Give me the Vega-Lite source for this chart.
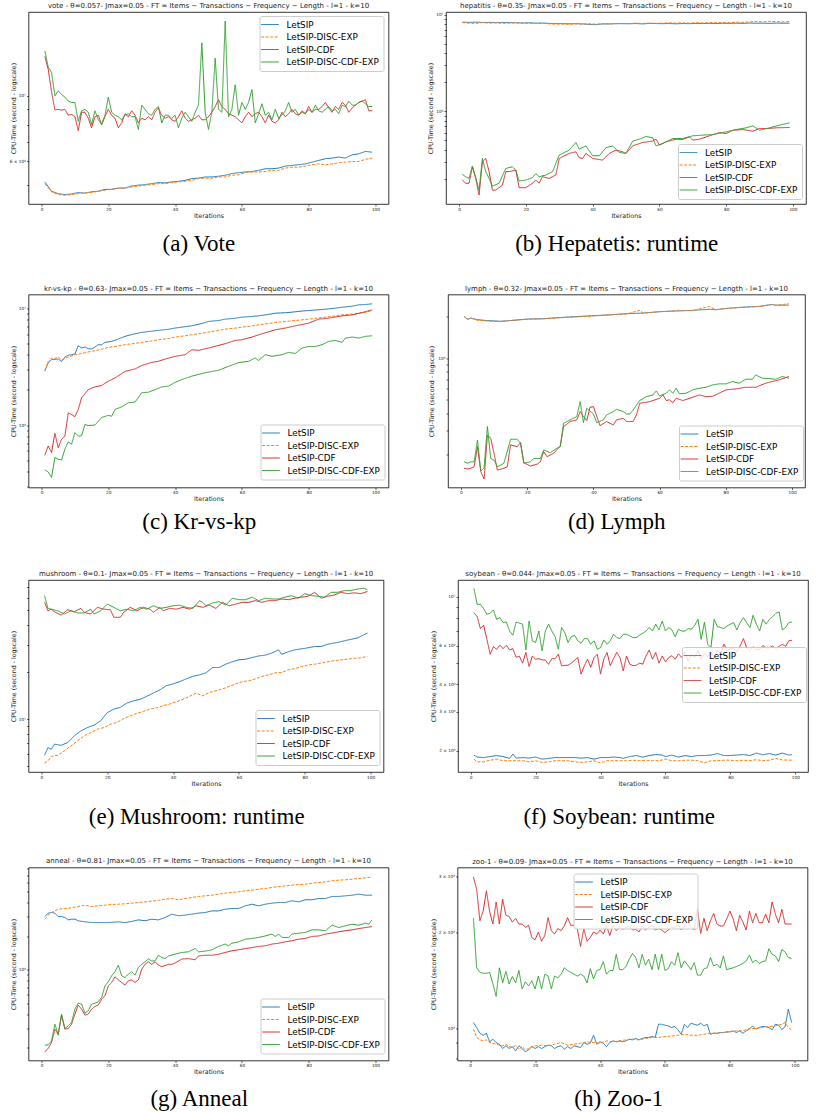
{
"$schema": "https://vega.github.io/schema/vega-lite/v6.json",
"background": "white",
"padding": {"left": 8.5, "top": 1, "right": 0, "bottom": 0},
"config": {
  "font": "DejaVu Sans",
  "view": {"stroke": "#000", "strokeWidth": 0.8},
  "axis": {"domain": false, "grid": false, "tickColor": "#000", "tickWidth": 0.6, "tickSize": 2, "labelFontSize": 4.3, "labelColor": "#222", "labelPadding": 1, "labelFont": "DejaVu Sans", "titleFont": "DejaVu Sans", "titleFontSize": 6.3, "titleFontWeight": "normal", "titleColor": "#222", "labelOverlap": false},
  "axisY": {"titlePadding": 2},
  "axisX": {"titlePadding": 1},
  "title": {"font": "DejaVu Sans", "fontSize": 7, "fontWeight": "normal", "color": "#222", "offset": 3, "anchor": "middle"},
  "legend": {"symbolType": "M-2.5,0H2.5", "symbolSize": 50, "symbolOffset": 2, "symbolStrokeWidth": 1.5, "labelFontSize": 8.8, "labelFont": "DejaVu Sans", "labelColor": "#000", "padding": 4, "rowPadding": 2.5, "labelOffset": 12, "strokeColor": "#cccccc", "fillColor": "rgba(255,255,255,0.8)", "cornerRadius": 2},
  "line": {"strokeWidth": 1}
},
"datasets": {
"vote": [
{"x":1,"A":5.12,"B":5.05,"C":13.6,"D":14.2},{"x":2,"C":12.3,"D":12.5},{"x":3,"A":4.76,"B":4.74,"C":10.3,"D":12.0},{"x":4,"C":8.97,"D":10.0},{"x":5,"A":4.67,"B":4.64,"C":9.0,"D":10.4},{"x":6,"C":8.95,"D":10.1},{"x":7,"A":4.64,"B":4.61,"C":9.0,"D":9.9},{"x":8,"C":8.6,"D":9.6},{"x":9,"A":4.66,"B":4.64,"C":8.65,"D":9.5},{"x":10,"C":8.5,"D":9.5},
{"x":11,"A":4.71,"B":4.67,"C":7.63,"D":8.2},{"x":12,"C":8.8,"D":8.9},{"x":13,"A":4.69,"B":4.71,"C":8.8,"D":9.0},{"x":14,"C":8.4,"D":8.8},{"x":15,"A":4.74,"B":4.71,"C":7.8,"D":8.0},{"x":16,"C":8.5,"D":8.9},{"x":17,"A":4.76,"B":4.76,"C":8.6,"D":8.3},{"x":18,"C":8.0,"D":8.0},{"x":19,"A":4.83,"B":4.80,"C":8.5,"D":8.6},{"x":20,"C":9.0,"D":9.9},
{"x":21,"A":4.83,"B":4.83,"C":8.6,"D":8.8},{"x":22,"C":8.4,"D":8.6},{"x":23,"A":4.88,"B":4.86,"C":7.8,"D":8.5},{"x":24,"C":8.1,"D":8.3},{"x":25,"A":4.88,"B":4.88,"C":8.7,"D":8.6},{"x":26,"C":8.5,"D":8.7},{"x":27,"A":4.96,"B":4.92,"C":8.9,"D":8.5},{"x":28,"C":8.6,"D":8.5},{"x":29,"A":4.99,"B":4.96,"C":8.1,"D":7.7},{"x":30,"C":8.4,"D":9.3},
{"x":31,"A":5.01,"B":4.99,"C":8.3,"D":9.0},{"x":32,"C":8.5,"D":8.7},{"x":33,"A":5.05,"B":5.01,"C":8.3,"D":8.6},{"x":34,"C":8.8,"D":9.0},{"x":35,"A":5.09,"B":5.05,"C":9.1,"D":9.2},{"x":36,"C":8.6,"D":8.1},{"x":37,"A":5.08,"B":5.05,"C":8.4,"D":8.6},{"x":38,"C":8.5,"D":8.6},{"x":39,"A":5.12,"B":5.09,"C":8.3,"D":8.4},{"x":40,"C":8.2,"D":8.6},
{"x":41,"A":5.14,"B":5.12,"C":8.5,"D":7.8},{"x":42,"C":8.9,"D":8.4},{"x":43,"A":5.18,"B":5.14,"C":8.4,"D":8.8},{"x":44,"C":8.2,"D":8.5},{"x":45,"A":5.25,"B":5.18,"C":8.3,"D":8.2},{"x":46,"C":8.4,"D":8.8},{"x":47,"A":5.27,"B":5.25,"C":8.6,"D":9.3},{"x":48,"C":8.3,"D":15.1},{"x":49,"A":5.32,"B":5.27,"C":8.3,"D":8.8},{"x":50,"C":8.5,"D":7.7},
{"x":51,"A":5.32,"B":5.27,"C":8.8,"D":8.8},{"x":52,"C":9.2,"D":13.4},{"x":53,"A":5.35,"B":5.32,"C":9.7,"D":9.0},{"x":54,"C":9.2,"D":8.8},{"x":55,"A":5.39,"B":5.32,"C":9.0,"D":17.9},{"x":56,"C":8.7,"D":8.5},{"x":57,"A":5.46,"B":5.39,"C":8.6,"D":9.0},{"x":58,"C":8.5,"D":10.9},{"x":59,"A":5.50,"B":5.41,"C":8.3,"D":8.6},{"x":60,"C":8.1,"D":9.5},
{"x":61,"A":5.53,"B":5.50,"C":8.5,"D":9.0},{"x":62,"C":8.8,"D":9.5},{"x":63,"A":5.55,"B":5.53,"C":8.5,"D":10.5},{"x":64,"C":8.7,"D":8.1},{"x":65,"A":5.60,"B":5.53,"C":8.8,"D":8.7},{"x":66,"C":8.5,"D":9.4},{"x":67,"A":5.67,"B":5.55,"C":8.1,"D":8.6},{"x":68,"C":8.6,"D":8.8},{"x":69,"A":5.67,"B":5.60,"C":8.2,"D":8.3},{"x":70,"C":8.1,"D":9.0},
{"x":71,"A":5.70,"B":5.60,"C":8.3,"D":8.4},{"x":72,"C":8.8,"D":8.6},{"x":73,"A":5.79,"B":5.70,"C":8.5,"D":8.9},{"x":74,"C":8.7,"D":9.5},{"x":75,"A":5.82,"B":5.74,"C":9.0,"D":8.8},{"x":76,"C":8.7,"D":9.0},{"x":77,"A":5.85,"B":5.74,"C":8.6,"D":8.6},{"x":78,"C":8.9,"D":8.8},{"x":79,"A":5.89,"B":5.79,"C":8.7,"D":8.7},{"x":80,"C":9.2,"D":9.0},
{"x":81,"A":5.97,"B":5.85,"C":8.8,"D":8.8},{"x":82,"C":9.0,"D":9.3},{"x":83,"A":6.05,"B":5.89,"C":9.0,"D":8.9},{"x":84,"C":9.2,"D":8.8},{"x":85,"A":6.13,"B":5.85,"C":9.5,"D":9.0},{"x":86,"C":9.1,"D":9.2},{"x":87,"A":6.16,"B":5.89,"C":8.8,"D":8.9},{"x":88,"C":9.2,"D":9.0},{"x":89,"A":6.21,"B":5.94,"C":9.0,"D":8.7},{"x":90,"C":9.5,"D":9.3},
{"x":91,"A":6.16,"B":5.97,"C":9.3,"D":9.2},{"x":92,"C":8.8,"D":9.6},{"x":93,"A":6.32,"B":6.0,"C":9.1,"D":9.3},{"x":94,"C":9.3,"D":9.3},{"x":95,"A":6.37,"B":6.0,"C":9.5,"D":9.5},{"x":96,"C":9.6,"D":9.6},{"x":97,"A":6.49,"B":6.10,"C":9.7,"D":9.4},{"x":98,"C":8.9,"D":9.2},{"x":99,"A":6.45,"B":6.16,"C":8.9,"D":9.2}
],
"hep": [
{"x":1,"A":8.40,"B":8.3},{"x":3,"A":8.35,"B":8.2},{"x":5,"A":8.40,"B":8.15},{"x":7,"A":8.33,"B":8.3},{"x":9,"A":8.35,"B":8.2},{"x":11,"A":8.30,"B":8.25},{"x":13,"A":8.35,"B":8.15},{"x":15,"A":8.30,"B":8.2},{"x":17,"A":8.28,"B":8.25},{"x":19,"A":8.25,"B":8.15},
{"x":21,"A":8.27,"B":8.2},{"x":23,"A":8.20,"B":8.1},{"x":25,"A":8.22,"B":8.15},{"x":27,"A":8.15,"B":8.05},{"x":29,"A":8.12,"B":8.0},{"x":31,"A":8.10,"B":8.02},{"x":33,"A":8.08,"B":7.98},{"x":35,"A":8.10,"B":8.05},{"x":37,"A":8.05,"B":8.0},{"x":39,"A":7.95,"B":8.08},
{"x":41,"A":7.90,"B":8.0},{"x":43,"A":8.05,"B":8.1},{"x":45,"A":8.05,"B":8.05},{"x":47,"A":8.10,"B":8.1},{"x":49,"A":8.10,"B":8.15},{"x":51,"A":8.08,"B":8.12},{"x":53,"A":8.12,"B":8.2},{"x":55,"A":8.05,"B":8.15},{"x":57,"A":8.15,"B":8.2},{"x":59,"A":8.12,"B":8.15},
{"x":61,"A":8.10,"B":8.2},{"x":63,"A":8.12,"B":8.25},{"x":65,"A":8.08,"B":8.2},{"x":67,"A":8.12,"B":8.25},{"x":69,"A":8.10,"B":8.2},{"x":71,"A":8.15,"B":8.28},{"x":73,"A":8.12,"B":8.25},{"x":75,"A":8.15,"B":8.3},{"x":77,"A":8.12,"B":8.28},{"x":79,"A":8.18,"B":8.32},
{"x":81,"A":8.15,"B":8.3},{"x":83,"A":8.20,"B":8.38},{"x":85,"A":8.15,"B":8.35},{"x":87,"A":8.22,"B":8.45},{"x":89,"A":8.18,"B":8.55},{"x":91,"A":8.20,"B":8.45},{"x":93,"A":8.15,"B":8.55},{"x":95,"A":8.22,"B":8.5},{"x":97,"A":8.18,"B":8.45},{"x":99,"A":8.20,"B":8.5},
{"x":1,"C":0.193},{"x":2,"C":0.179},{"x":3,"C":0.179},{"x":4,"C":0.265},{"x":5,"C":0.201},{"x":6,"C":0.135},{"x":7,"C":0.299},{"x":8,"C":0.324},{"x":9,"C":0.236},{"x":10,"C":0.152},{"x":11,"C":0.152},{"x":13,"C":0.171},{"x":14,"C":0.236},{"x":15,"C":0.236},{"x":17,"C":0.245},{"x":18,"C":0.161},{"x":20,"C":0.161},{"x":22,"C":0.179},{"x":23,"C":0.193},{"x":24,"C":0.179},{"x":25,"C":0.209},{"x":27,"C":0.201},{"x":29,"C":0.218},{"x":30,"C":0.324},{"x":33,"C":0.365},{"x":35,"C":0.379},{"x":36,"C":0.329},{"x":37,"C":0.324},{"x":38,"C":0.365},{"x":40,"C":0.324},{"x":43,"C":0.311},{"x":45,"C":0.365},{"x":47,"C":0.395},{"x":49,"C":0.379},{"x":50,"C":0.365},{"x":52,"C":0.437},{"x":55,"C":0.474},{"x":58,"C":0.490},{"x":59,"C":0.513},{"x":60,"C":0.445},{"x":62,"C":0.482},{"x":65,"C":0.513},{"x":67,"C":0.510},{"x":69,"C":0.542},{"x":70,"C":0.501},{"x":72,"C":0.513},{"x":75,"C":0.556},{"x":78,"C":0.601},{"x":80,"C":0.587},{"x":82,"C":0.635},{"x":85,"C":0.645},{"x":88,"C":0.621},{"x":90,"C":0.662},{"x":93,"C":0.662},{"x":95,"C":0.673},{"x":99,"C":0.678},
{"x":1,"D":0.221},{"x":2,"D":0.209},{"x":3,"D":0.201},{"x":4,"D":0.27},{"x":5,"D":0.205},{"x":6,"D":0.152},{"x":7,"D":0.324},{"x":8,"D":0.236},{"x":9,"D":0.201},{"x":10,"D":0.167},{"x":12,"D":0.179},{"x":14,"D":0.255},{"x":16,"D":0.265},{"x":17,"D":0.245},{"x":18,"D":0.189},{"x":20,"D":0.193},{"x":22,"D":0.205},{"x":23,"D":0.225},{"x":24,"D":0.209},{"x":26,"D":0.218},{"x":28,"D":0.236},{"x":30,"D":0.351},{"x":33,"D":0.395},{"x":35,"D":0.474},{"x":36,"D":0.404},{"x":38,"D":0.437},{"x":40,"D":0.345},{"x":42,"D":0.345},{"x":44,"D":0.418},{"x":46,"D":0.437},{"x":48,"D":0.373},{"x":50,"D":0.365},{"x":52,"D":0.490},{"x":54,"D":0.513},{"x":56,"D":0.547},{"x":58,"D":0.530},{"x":59,"D":0.437},{"x":61,"D":0.463},{"x":64,"D":0.521},{"x":67,"D":0.521},{"x":70,"D":0.556},{"x":73,"D":0.565},{"x":76,"D":0.573},{"x":80,"D":0.611},{"x":83,"D":0.645},{"x":86,"D":0.673},{"x":88,"D":0.705},{"x":90,"D":0.635},{"x":93,"D":0.673},{"x":96,"D":0.717},{"x":99,"D":0.757}
],
"krkp": [
{"x":1,"A":2.94},{"x":2,"A":3.40},{"x":3,"A":3.63},{"x":4,"A":3.65},{"x":5,"A":3.67},{"x":6,"A":3.50},{"x":7,"A":3.82},{"x":8,"A":3.95},{"x":9,"A":4.0},{"x":10,"A":4.05},{"x":11,"A":4.78},{"x":12,"A":4.57},{"x":13,"A":4.66},{"x":14,"A":4.5},{"x":15,"A":4.48},{"x":16,"A":4.65},{"x":17,"A":4.87},{"x":18,"A":4.85},{"x":19,"A":5.10},{"x":21,"A":5.20},{"x":23,"A":5.45},{"x":25,"A":5.74},{"x":27,"A":5.95},{"x":30,"A":6.21},{"x":33,"A":6.35},{"x":35,"A":6.46},{"x":38,"A":6.6},{"x":40,"A":6.76},{"x":43,"A":6.95},{"x":45,"A":7.07},{"x":48,"A":7.4},{"x":50,"A":7.70},{"x":53,"A":7.85},{"x":55,"A":8.06},{"x":58,"A":8.2},{"x":60,"A":8.38},{"x":63,"A":8.5},{"x":65,"A":8.60},{"x":68,"A":8.85},{"x":70,"A":9.06},{"x":73,"A":9.15},{"x":75,"A":9.25},{"x":78,"A":9.45},{"x":80,"A":9.55},{"x":83,"A":9.7},{"x":85,"A":9.80},{"x":88,"A":10.0},{"x":90,"A":10.2},{"x":93,"A":10.4},{"x":95,"A":10.7},{"x":97,"A":10.75},{"x":99,"A":10.9},
{"x":1,"B":2.88},{"x":2,"B":3.5},{"x":3,"B":3.75},{"x":4,"B":3.72},{"x":5,"B":3.82},{"x":6,"B":3.6},{"x":7,"B":3.7},{"x":8,"B":3.82},{"x":10,"B":4.0},{"x":12,"B":4.1},{"x":15,"B":4.28},{"x":18,"B":4.45},{"x":20,"B":4.62},{"x":23,"B":4.75},{"x":25,"B":4.87},{"x":28,"B":5.0},{"x":30,"B":5.10},{"x":33,"B":5.25},{"x":35,"B":5.37},{"x":38,"B":5.5},{"x":40,"B":5.66},{"x":43,"B":5.8},{"x":45,"B":5.93},{"x":48,"B":6.1},{"x":50,"B":6.24},{"x":53,"B":6.45},{"x":55,"B":6.62},{"x":58,"B":6.75},{"x":60,"B":6.89},{"x":63,"B":7.05},{"x":65,"B":7.21},{"x":68,"B":7.4},{"x":70,"B":7.55},{"x":73,"B":7.7},{"x":75,"B":7.80},{"x":78,"B":7.95},{"x":80,"B":8.06},{"x":83,"B":8.25},{"x":85,"B":8.38},{"x":88,"B":8.6},{"x":90,"B":8.77},{"x":93,"B":8.9},{"x":95,"B":9.06},{"x":97,"B":9.2},{"x":99,"B":9.55},
{"x":1,"C":0.551},{"x":2,"C":0.662},{"x":3,"C":0.581},{"x":4,"C":0.849},{"x":5,"C":0.641},{"x":6,"C":0.755},{"x":7,"C":0.805},{"x":8,"C":1.27},{"x":9,"C":1.23},{"x":10,"C":1.18},{"x":11,"C":1.36},{"x":12,"C":1.71},{"x":14,"C":2.01},{"x":16,"C":2.12},{"x":18,"C":2.18},{"x":20,"C":2.37},{"x":22,"C":2.53},{"x":25,"C":2.88},{"x":28,"C":3.02},{"x":30,"C":3.23},{"x":33,"C":3.44},{"x":35,"C":3.51},{"x":37,"C":3.67},{"x":40,"C":3.87},{"x":43,"C":4.0},{"x":45,"C":4.41},{"x":47,"C":4.36},{"x":50,"C":4.56},{"x":55,"C":4.97},{"x":58,"C":5.30},{"x":60,"C":5.37},{"x":63,"C":5.66},{"x":66,"C":6.04},{"x":70,"C":6.53},{"x":73,"C":6.76},{"x":76,"C":7.07},{"x":80,"C":7.45},{"x":83,"C":8.06},{"x":86,"C":8.22},{"x":90,"C":8.60},{"x":93,"C":8.77},{"x":96,"C":9.18},{"x":99,"C":9.68},
{"x":1,"D":0.413},{"x":2,"D":0.397},{"x":3,"D":0.356},{"x":4,"D":0.527},{"x":5,"D":0.510},{"x":6,"D":0.502},{"x":7,"D":0.621},{"x":8,"D":0.717},{"x":9,"D":0.686},{"x":10,"D":0.861},{"x":11,"D":0.805},{"x":12,"D":0.81},{"x":13,"D":1.01},{"x":14,"D":0.99},{"x":16,"D":1.0},{"x":18,"D":1.16},{"x":20,"D":1.21},{"x":21,"D":1.19},{"x":22,"D":1.36},{"x":24,"D":1.43},{"x":26,"D":1.55},{"x":28,"D":1.57},{"x":30,"D":1.89},{"x":32,"D":1.91},{"x":34,"D":2.01},{"x":36,"D":2.12},{"x":38,"D":2.15},{"x":40,"D":2.32},{"x":42,"D":2.45},{"x":45,"D":2.62},{"x":48,"D":2.76},{"x":50,"D":2.84},{"x":53,"D":2.94},{"x":56,"D":3.18},{"x":59,"D":3.42},{"x":62,"D":3.51},{"x":64,"D":3.75},{"x":65,"D":3.57},{"x":67,"D":4.0},{"x":69,"D":3.87},{"x":72,"D":4.0},{"x":74,"D":4.19},{"x":76,"D":4.1},{"x":78,"D":4.56},{"x":80,"D":4.71},{"x":82,"D":4.71},{"x":84,"D":4.87},{"x":86,"D":5.20},{"x":88,"D":5.30},{"x":90,"D":5.10},{"x":91,"D":5.55},{"x":93,"D":5.66},{"x":95,"D":5.55},{"x":97,"D":5.74},{"x":99,"D":5.81}
],
"lymph": [
{"x":1,"A":2.0},{"x":2,"A":1.92},{"x":3,"A":1.95},{"x":5,"A":1.90},{"x":8,"A":1.87},{"x":12,"A":1.85},{"x":15,"A":1.87},{"x":20,"A":1.92},{"x":25,"A":1.93},{"x":30,"A":1.97},{"x":35,"A":2.0},{"x":40,"A":2.03},{"x":45,"A":2.06},{"x":50,"A":2.10},{"x":55,"A":2.12},{"x":60,"A":2.17},{"x":65,"A":2.20},{"x":70,"A":2.22},{"x":75,"A":2.26},{"x":77,"A":2.24},{"x":80,"A":2.29},{"x":85,"A":2.34},{"x":90,"A":2.37},{"x":94,"A":2.45},{"x":95,"A":2.42},{"x":99,"A":2.42},
{"x":1,"B":2.0},{"x":2,"B":1.9},{"x":3,"B":1.95},{"x":5,"B":1.88},{"x":8,"B":1.86},{"x":12,"B":1.84},{"x":15,"B":1.88},{"x":20,"B":1.91},{"x":25,"B":1.93},{"x":30,"B":1.96},{"x":35,"B":1.99},{"x":40,"B":2.02},{"x":45,"B":2.06},{"x":50,"B":2.09},{"x":54,"B":2.22},{"x":55,"B":2.12},{"x":60,"B":2.17},{"x":65,"B":2.2},{"x":70,"B":2.21},{"x":75,"B":2.37},{"x":77,"B":2.25},{"x":80,"B":2.28},{"x":85,"B":2.33},{"x":90,"B":2.36},{"x":94,"B":2.44},{"x":95,"B":2.41},{"x":99,"B":2.48},
{"x":1,"C":0.160},{"x":2,"C":0.158},{"x":3,"C":0.160},{"x":4,"C":0.164},{"x":5,"C":0.229},{"x":6,"C":0.151},{"x":7,"C":0.134},{"x":8,"C":0.278},{"x":9,"C":0.263},{"x":10,"C":0.205},{"x":11,"C":0.155},{"x":13,"C":0.160},{"x":14,"C":0.164},{"x":15,"C":0.236},{"x":17,"C":0.229},{"x":18,"C":0.245},{"x":19,"C":0.175},{"x":21,"C":0.166},{"x":23,"C":0.171},{"x":24,"C":0.178},{"x":25,"C":0.211},{"x":26,"C":0.194},{"x":28,"C":0.205},{"x":30,"C":0.232},{"x":31,"C":0.320},{"x":33,"C":0.348},{"x":35,"C":0.358},{"x":36,"C":0.411},{"x":37,"C":0.378},{"x":38,"C":0.354},{"x":39,"C":0.442},{"x":40,"C":0.446},{"x":42,"C":0.325},{"x":44,"C":0.348},{"x":46,"C":0.329},{"x":47,"C":0.358},{"x":49,"C":0.367},{"x":50,"C":0.348},{"x":52,"C":0.348},{"x":53,"C":0.388},{"x":54,"C":0.472},{"x":57,"C":0.485},{"x":60,"C":0.513},{"x":61,"C":0.543},{"x":62,"C":0.494},{"x":63,"C":0.50},{"x":64,"C":0.477},{"x":65,"C":0.513},{"x":67,"C":0.494},{"x":70,"C":0.522},{"x":72,"C":0.542},{"x":74,"C":0.527},{"x":76,"C":0.53},{"x":78,"C":0.558},{"x":80,"C":0.590},{"x":83,"C":0.60},{"x":86,"C":0.616},{"x":89,"C":0.616},{"x":92,"C":0.659},{"x":94,"C":0.678},{"x":96,"C":0.696},{"x":99,"C":0.737},
{"x":1,"D":0.178},{"x":2,"D":0.174},{"x":3,"D":0.178},{"x":4,"D":0.178},{"x":5,"D":0.256},{"x":6,"D":0.153},{"x":7,"D":0.16},{"x":8,"D":0.320},{"x":9,"D":0.188},{"x":10,"D":0.183},{"x":11,"D":0.164},{"x":12,"D":0.168},{"x":13,"D":0.174},{"x":15,"D":0.259},{"x":17,"D":0.259},{"x":18,"D":0.243},{"x":19,"D":0.174},{"x":21,"D":0.178},{"x":22,"D":0.188},{"x":24,"D":0.188},{"x":25,"D":0.217},{"x":27,"D":0.207},{"x":29,"D":0.223},{"x":30,"D":0.229},{"x":31,"D":0.338},{"x":33,"D":0.358},{"x":35,"D":0.378},{"x":36,"D":0.485},{"x":37,"D":0.342},{"x":38,"D":0.434},{"x":40,"D":0.395},{"x":41,"D":0.342},{"x":43,"D":0.358},{"x":44,"D":0.388},{"x":46,"D":0.411},{"x":47,"D":0.427},{"x":49,"D":0.411},{"x":50,"D":0.395},{"x":51,"D":0.395},{"x":52,"D":0.422},{"x":54,"D":0.494},{"x":56,"D":0.527},{"x":58,"D":0.542},{"x":59,"D":0.580},{"x":60,"D":0.533},{"x":62,"D":0.558},{"x":63,"D":0.59},{"x":64,"D":0.558},{"x":65,"D":0.606},{"x":66,"D":0.552},{"x":68,"D":0.558},{"x":70,"D":0.59},{"x":72,"D":0.606},{"x":74,"D":0.616},{"x":76,"D":0.641},{"x":78,"D":0.652},{"x":80,"D":0.652},{"x":82,"D":0.678},{"x":84,"D":0.659},{"x":86,"D":0.704},{"x":88,"D":0.704},{"x":89,"D":0.757},{"x":91,"D":0.716},{"x":93,"D":0.712},{"x":95,"D":0.704},{"x":97,"D":0.737},{"x":99,"D":0.716}
],
"mush": [
{"x":1,"A":5.88},{"x":2,"A":6.58},{"x":3,"A":6.42},{"x":4,"A":6.92},{"x":6,"A":6.8},{"x":8,"A":7.08},{"x":10,"A":7.82},{"x":12,"A":8.41},{"x":14,"A":8.84},{"x":16,"A":9.15},{"x":18,"A":9.75},{"x":20,"A":11.0},{"x":22,"A":11.6},{"x":24,"A":11.9},{"x":26,"A":12.7},{"x":28,"A":13.1},{"x":30,"A":13.4},{"x":32,"A":14.0},{"x":34,"A":14.7},{"x":36,"A":15.4},{"x":38,"A":16.4},{"x":40,"A":16.8},{"x":42,"A":17.4},{"x":44,"A":18.1},{"x":46,"A":18.8},{"x":48,"A":19.2},{"x":50,"A":19.8},{"x":52,"A":21.4},{"x":54,"A":21.4},{"x":56,"A":22.5},{"x":58,"A":23.3},{"x":60,"A":24.0},{"x":62,"A":24.2},{"x":64,"A":24.8},{"x":66,"A":25.4},{"x":68,"A":25.7},{"x":70,"A":26.5},{"x":72,"A":27.8},{"x":73,"A":26.0},{"x":75,"A":27.0},{"x":77,"A":27.8},{"x":80,"A":28.4},{"x":83,"A":29.2},{"x":85,"A":29.2},{"x":87,"A":30.2},{"x":90,"A":31.0},{"x":93,"A":32.1},{"x":96,"A":33.1},{"x":99,"A":35.6},
{"x":1,"B":5.22},{"x":2,"B":5.40},{"x":3,"B":5.77},{"x":5,"B":5.88},{"x":7,"B":6.27},{"x":9,"B":6.74},{"x":11,"B":7.26},{"x":13,"B":7.82},{"x":15,"B":8.21},{"x":17,"B":8.62},{"x":19,"B":8.84},{"x":21,"B":9.29},{"x":23,"B":9.52},{"x":25,"B":10.1},{"x":27,"B":10.5},{"x":29,"B":10.9},{"x":31,"B":11.2},{"x":33,"B":11.6},{"x":35,"B":11.8},{"x":37,"B":12.2},{"x":39,"B":12.5},{"x":41,"B":12.9},{"x":43,"B":13.4},{"x":45,"B":14.0},{"x":47,"B":14.7},{"x":49,"B":14.1},{"x":51,"B":14.8},{"x":53,"B":15.2},{"x":55,"B":15.6},{"x":57,"B":16.2},{"x":59,"B":16.8},{"x":61,"B":17.4},{"x":63,"B":17.6},{"x":65,"B":18.1},{"x":67,"B":18.8},{"x":69,"B":19.2},{"x":71,"B":19.8},{"x":73,"B":19.9},{"x":75,"B":20.7},{"x":77,"B":21.1},{"x":79,"B":21.7},{"x":81,"B":22.2},{"x":83,"B":22.5},{"x":85,"B":22.9},{"x":87,"B":23.3},{"x":89,"B":23.7},{"x":91,"B":24.0},{"x":93,"B":24.2},{"x":95,"B":24.5},{"x":97,"B":24.7},{"x":99,"B":25.2},
{"x":1,"C":56.0},{"x":2,"C":49.4},{"x":3,"C":50.6},{"x":4,"C":48.7},{"x":6,"C":46.4},{"x":8,"C":50.2},{"x":10,"C":48.7},{"x":12,"C":51.2},{"x":13,"C":48.3},{"x":15,"C":47.1},{"x":17,"C":52.0},{"x":19,"C":50.6},{"x":21,"C":50.2},{"x":22,"C":44.9},{"x":24,"C":44.9},{"x":25,"C":48.3},{"x":27,"C":52.0},{"x":29,"C":49.4},{"x":31,"C":52.0},{"x":33,"C":50.6},{"x":34,"C":48.3},{"x":36,"C":52.0},{"x":37,"C":49.4},{"x":39,"C":51.2},{"x":41,"C":50.6},{"x":43,"C":52.0},{"x":45,"C":50.6},{"x":47,"C":53.2},{"x":49,"C":52.0},{"x":51,"C":53.7},{"x":53,"C":51.2},{"x":55,"C":56.0},{"x":57,"C":53.2},{"x":59,"C":54.5},{"x":61,"C":56.0},{"x":63,"C":56.0},{"x":65,"C":57.4},{"x":67,"C":56.0},{"x":69,"C":57.4},{"x":71,"C":57.4},{"x":73,"C":58.8},{"x":75,"C":58.2},{"x":77,"C":59.5},{"x":79,"C":60.4},{"x":81,"C":61.2},{"x":83,"C":64.9},{"x":85,"C":59.5},{"x":87,"C":61.2},{"x":89,"C":62.4},{"x":91,"C":64.9},{"x":93,"C":63.6},{"x":95,"C":64.4},{"x":97,"C":63.6},{"x":99,"C":65.7},
{"x":1,"D":61.8},{"x":2,"D":51.2},{"x":3,"D":50.6},{"x":5,"D":49.4},{"x":7,"D":47.1},{"x":9,"D":49.4},{"x":11,"D":47.9},{"x":13,"D":47.9},{"x":15,"D":50.6},{"x":16,"D":47.1},{"x":18,"D":49.4},{"x":20,"D":54.5},{"x":22,"D":52.0},{"x":24,"D":49.4},{"x":26,"D":50.6},{"x":28,"D":49.4},{"x":30,"D":52.0},{"x":32,"D":50.6},{"x":34,"D":53.2},{"x":36,"D":51.2},{"x":38,"D":52.0},{"x":40,"D":53.2},{"x":42,"D":53.7},{"x":44,"D":52.0},{"x":46,"D":51.2},{"x":48,"D":57.4},{"x":49,"D":56.0},{"x":50,"D":53.2},{"x":52,"D":55.5},{"x":54,"D":56.5},{"x":56,"D":53.7},{"x":58,"D":59.5},{"x":60,"D":58.2},{"x":62,"D":58.2},{"x":64,"D":60.4},{"x":66,"D":57.4},{"x":68,"D":59.5},{"x":70,"D":58.8},{"x":72,"D":58.8},{"x":74,"D":60.4},{"x":76,"D":61.8},{"x":78,"D":59.5},{"x":80,"D":63.6},{"x":82,"D":61.8},{"x":84,"D":61.2},{"x":86,"D":60.4},{"x":88,"D":64.9},{"x":90,"D":64.9},{"x":92,"D":66.5},{"x":94,"D":66.5},{"x":96,"D":68.1},{"x":98,"D":68.9},{"x":99,"D":67.3}
],
"soy": [
{"x":1,"A":1.91},{"x":2,"A":1.87},{"x":4,"A":1.86},{"x":6,"A":1.88},{"x":8,"A":1.90},{"x":10,"A":1.88},{"x":12,"A":1.845},{"x":13,"A":1.93},{"x":14,"A":1.85},{"x":16,"A":1.86},{"x":18,"A":1.85},{"x":20,"A":1.87},{"x":22,"A":1.83},{"x":24,"A":1.845},{"x":26,"A":1.86},{"x":28,"A":1.86},{"x":30,"A":1.86},{"x":32,"A":1.86},{"x":34,"A":1.85},{"x":36,"A":1.86},{"x":38,"A":1.83},{"x":40,"A":1.86},{"x":42,"A":1.86},{"x":44,"A":1.87},{"x":46,"A":1.86},{"x":47,"A":1.845},{"x":49,"A":1.88},{"x":51,"A":1.90},{"x":53,"A":1.87},{"x":55,"A":1.90},{"x":57,"A":1.92},{"x":59,"A":1.91},{"x":60,"A":1.88},{"x":62,"A":1.91},{"x":64,"A":1.87},{"x":66,"A":1.90},{"x":68,"A":1.88},{"x":70,"A":1.90},{"x":72,"A":1.90},{"x":74,"A":1.91},{"x":76,"A":1.94},{"x":78,"A":1.90},{"x":80,"A":1.90},{"x":82,"A":1.91},{"x":84,"A":1.92},{"x":86,"A":1.90},{"x":88,"A":1.95},{"x":90,"A":1.915},{"x":92,"A":1.94},{"x":94,"A":1.91},{"x":96,"A":1.95},{"x":98,"A":1.91},{"x":99,"A":1.92},
{"x":1,"B":1.83},{"x":2,"B":1.78},{"x":4,"B":1.78},{"x":6,"B":1.81},{"x":8,"B":1.83},{"x":10,"B":1.80},{"x":12,"B":1.80},{"x":14,"B":1.80},{"x":16,"B":1.80},{"x":18,"B":1.78},{"x":20,"B":1.80},{"x":22,"B":1.77},{"x":24,"B":1.78},{"x":26,"B":1.80},{"x":28,"B":1.80},{"x":30,"B":1.80},{"x":32,"B":1.78},{"x":34,"B":1.77},{"x":36,"B":1.78},{"x":38,"B":1.80},{"x":40,"B":1.76},{"x":42,"B":1.80},{"x":44,"B":1.80},{"x":46,"B":1.80},{"x":48,"B":1.80},{"x":50,"B":1.81},{"x":52,"B":1.80},{"x":54,"B":1.81},{"x":56,"B":1.80},{"x":58,"B":1.80},{"x":60,"B":1.83},{"x":62,"B":1.80},{"x":64,"B":1.80},{"x":66,"B":1.81},{"x":68,"B":1.81},{"x":70,"B":1.80},{"x":72,"B":1.76},{"x":74,"B":1.80},{"x":76,"B":1.80},{"x":78,"B":1.81},{"x":80,"B":1.81},{"x":82,"B":1.80},{"x":84,"B":1.81},{"x":86,"B":1.80},{"x":88,"B":1.82},{"x":90,"B":1.80},{"x":92,"B":1.81},{"x":94,"B":1.845},{"x":96,"B":1.815},{"x":99,"B":1.81},
{"x":1,"C":8.46},{"x":2,"C":8.12},{"x":3,"C":7.16},{"x":4,"C":7.41},{"x":5,"C":6.41},{"x":6,"C":5.48},{"x":7,"C":5.93},{"x":8,"C":5.77},{"x":9,"C":6.02},{"x":10,"C":5.81},{"x":11,"C":6.02},{"x":12,"C":5.73},{"x":13,"C":5.81},{"x":14,"C":5.30},{"x":15,"C":5.37},{"x":16,"C":4.99},{"x":17,"C":5.58},{"x":18,"C":4.82},{"x":19,"C":5.37},{"x":20,"C":5.20},{"x":21,"C":5.23},{"x":22,"C":5.16},{"x":23,"C":5.16},{"x":24,"C":4.93},{"x":25,"C":5.23},{"x":26,"C":5.23},{"x":27,"C":5.48},{"x":28,"C":4.85},{"x":29,"C":4.88},{"x":30,"C":4.88},{"x":31,"C":4.99},{"x":33,"C":5.30},{"x":34,"C":4.45},{"x":35,"C":4.85},{"x":36,"C":5.20},{"x":37,"C":4.78},{"x":38,"C":5.29},{"x":39,"C":5.48},{"x":40,"C":4.45},{"x":41,"C":5.20},{"x":42,"C":5.58},{"x":43,"C":4.86},{"x":44,"C":5.23},{"x":45,"C":5.58},{"x":46,"C":5.29},{"x":47,"C":4.60},{"x":48,"C":5.38},{"x":49,"C":4.94},{"x":50,"C":4.86},{"x":51,"C":4.88},{"x":52,"C":4.99},{"x":53,"C":4.94},{"x":54,"C":5.38},{"x":55,"C":5.73},{"x":56,"C":5.20},{"x":57,"C":5.58},{"x":58,"C":4.99},{"x":59,"C":5.38},{"x":60,"C":5.06},{"x":61,"C":5.29},{"x":62,"C":5.4},{"x":63,"C":5.2},{"x":64,"C":5.5},{"x":65,"C":5.3},{"x":66,"C":5.6},{"x":67,"C":5.1},{"x":68,"C":5.45},{"x":69,"C":5.3},{"x":70,"C":5.7},{"x":71,"C":5.2},{"x":72,"C":5.5},{"x":73,"C":5.35},{"x":74,"C":5.6},{"x":75,"C":5.3},{"x":76,"C":5.7},{"x":77,"C":5.5},{"x":78,"C":6.1},{"x":79,"C":5.7},{"x":80,"C":5.81},{"x":81,"C":5.85},{"x":82,"C":5.6},{"x":83,"C":5.97},{"x":84,"C":6.45},{"x":85,"C":5.87},{"x":86,"C":5.7},{"x":87,"C":5.92},{"x":88,"C":5.75},{"x":89,"C":5.77},{"x":90,"C":6.0},{"x":91,"C":5.85},{"x":92,"C":5.87},{"x":93,"C":5.97},{"x":94,"C":5.81},{"x":95,"C":5.95},{"x":96,"C":6.08},{"x":97,"C":5.95},{"x":98,"C":6.31},{"x":99,"C":6.34},
{"x":1,"D":10.9},{"x":2,"D":9.23},{"x":3,"D":9.23},{"x":4,"D":8.82},{"x":5,"D":8.32},{"x":6,"D":8.40},{"x":7,"D":8.70},{"x":8,"D":7.89},{"x":9,"D":8.03},{"x":10,"D":7.63},{"x":11,"D":7.67},{"x":12,"D":6.98},{"x":13,"D":6.68},{"x":14,"D":7.67},{"x":15,"D":7.58},{"x":16,"D":7.50},{"x":17,"D":5.73},{"x":18,"D":7.75},{"x":19,"D":6.30},{"x":20,"D":6.19},{"x":21,"D":6.98},{"x":22,"D":5.67},{"x":23,"D":6.98},{"x":24,"D":7.50},{"x":25,"D":6.98},{"x":26,"D":6.58},{"x":27,"D":5.77},{"x":28,"D":7.24},{"x":29,"D":6.87},{"x":30,"D":6.19},{"x":31,"D":6.58},{"x":32,"D":6.68},{"x":33,"D":6.30},{"x":34,"D":6.15},{"x":35,"D":6.45},{"x":36,"D":6.45},{"x":37,"D":6.08},{"x":38,"D":6.30},{"x":39,"D":5.77},{"x":40,"D":5.87},{"x":41,"D":6.36},{"x":42,"D":6.08},{"x":43,"D":6.30},{"x":44,"D":6.75},{"x":45,"D":6.52},{"x":46,"D":6.45},{"x":47,"D":6.75},{"x":48,"D":6.75},{"x":49,"D":6.63},{"x":50,"D":6.52},{"x":51,"D":6.52},{"x":52,"D":6.68},{"x":53,"D":6.82},{"x":54,"D":6.98},{"x":55,"D":7.24},{"x":56,"D":6.98},{"x":57,"D":7.50},{"x":58,"D":7.06},{"x":59,"D":7.75},{"x":60,"D":6.98},{"x":61,"D":7.24},{"x":62,"D":7.06},{"x":63,"D":6.58},{"x":64,"D":7.11},{"x":65,"D":6.98},{"x":66,"D":6.98},{"x":67,"D":7.16},{"x":68,"D":7.11},{"x":69,"D":7.41},{"x":70,"D":7.89},{"x":71,"D":6.40},{"x":72,"D":7.67},{"x":73,"D":6.08},{"x":74,"D":5.87},{"x":75,"D":7.89},{"x":76,"D":7.31},{"x":77,"D":7.24},{"x":78,"D":7.16},{"x":79,"D":7.36},{"x":80,"D":7.50},{"x":81,"D":7.63},{"x":82,"D":7.06},{"x":83,"D":7.63},{"x":84,"D":8.03},{"x":85,"D":7.63},{"x":86,"D":7.24},{"x":87,"D":8.23},{"x":88,"D":7.50},{"x":89,"D":6.98},{"x":90,"D":7.89},{"x":91,"D":7.50},{"x":92,"D":7.89},{"x":93,"D":8.12},{"x":94,"D":8.40},{"x":95,"D":8.52},{"x":96,"D":7.06},{"x":97,"D":7.24},{"x":98,"D":7.63},{"x":99,"D":7.67}
],
"anneal": [
{"x":1,"A":3.00},{"x":2,"A":3.22},{"x":3,"A":3.26},{"x":4,"A":3.22},{"x":5,"A":3.00},{"x":6,"A":3.00},{"x":7,"A":2.94},{"x":8,"A":2.80},{"x":9,"A":2.84},{"x":10,"A":2.84},{"x":11,"A":2.75},{"x":13,"A":2.69},{"x":15,"A":2.65},{"x":17,"A":2.65},{"x":20,"A":2.65},{"x":23,"A":2.69},{"x":25,"A":2.65},{"x":27,"A":2.71},{"x":29,"A":2.80},{"x":31,"A":2.75},{"x":33,"A":2.84},{"x":35,"A":2.80},{"x":37,"A":2.94},{"x":39,"A":3.15},{"x":41,"A":3.05},{"x":43,"A":3.09},{"x":45,"A":3.15},{"x":47,"A":3.22},{"x":49,"A":3.26},{"x":51,"A":3.37},{"x":53,"A":3.37},{"x":55,"A":3.49},{"x":57,"A":3.54},{"x":59,"A":3.54},{"x":61,"A":3.74},{"x":63,"A":3.87},{"x":65,"A":3.74},{"x":67,"A":3.87},{"x":69,"A":3.95},{"x":71,"A":4.01},{"x":73,"A":4.01},{"x":75,"A":4.15},{"x":77,"A":4.06},{"x":79,"A":4.24},{"x":81,"A":4.24},{"x":83,"A":4.35},{"x":85,"A":4.35},{"x":87,"A":4.54},{"x":89,"A":4.54},{"x":91,"A":4.60},{"x":93,"A":4.66},{"x":95,"A":4.76},{"x":97,"A":4.66},{"x":99,"A":4.66},
{"x":1,"B":2.84},{"x":2,"B":3.09},{"x":3,"B":3.26},{"x":4,"B":3.37},{"x":5,"B":3.49},{"x":7,"B":3.54},{"x":9,"B":3.59},{"x":11,"B":3.69},{"x":13,"B":3.79},{"x":15,"B":3.69},{"x":17,"B":3.74},{"x":19,"B":3.79},{"x":21,"B":3.85},{"x":23,"B":3.87},{"x":25,"B":3.90},{"x":27,"B":3.95},{"x":29,"B":4.01},{"x":31,"B":4.06},{"x":33,"B":4.12},{"x":35,"B":4.18},{"x":37,"B":4.29},{"x":39,"B":4.35},{"x":41,"B":4.24},{"x":43,"B":4.35},{"x":45,"B":4.44},{"x":47,"B":4.54},{"x":49,"B":4.60},{"x":51,"B":4.66},{"x":53,"B":4.76},{"x":55,"B":4.86},{"x":57,"B":4.93},{"x":59,"B":5.00},{"x":61,"B":5.10},{"x":63,"B":5.17},{"x":65,"B":5.27},{"x":67,"B":5.35},{"x":69,"B":5.46},{"x":71,"B":5.57},{"x":73,"B":5.65},{"x":75,"B":5.73},{"x":77,"B":5.81},{"x":79,"B":5.85},{"x":81,"B":5.97},{"x":83,"B":6.05},{"x":85,"B":6.14},{"x":87,"B":6.27},{"x":89,"B":6.35},{"x":91,"B":6.40},{"x":93,"B":6.49},{"x":95,"B":6.58},{"x":97,"B":6.66},{"x":99,"B":6.80},
{"x":1,"C":0.184},{"x":2,"C":0.198},{"x":3,"C":0.223},{"x":4,"C":0.294},{"x":5,"C":0.265},{"x":6,"C":0.393},{"x":7,"C":0.294},{"x":8,"C":0.298},{"x":9,"C":0.326},{"x":10,"C":0.401},{"x":11,"C":0.483},{"x":12,"C":0.444},{"x":13,"C":0.393},{"x":14,"C":0.401},{"x":15,"C":0.444},{"x":16,"C":0.470},{"x":17,"C":0.483},{"x":18,"C":0.546},{"x":19,"C":0.585},{"x":20,"C":0.719},{"x":21,"C":0.770},{"x":22,"C":0.866},{"x":23,"C":0.813},{"x":24,"C":0.770},{"x":25,"C":0.729},{"x":26,"C":0.797},{"x":27,"C":0.813},{"x":28,"C":0.770},{"x":29,"C":0.813},{"x":30,"C":1.01},{"x":31,"C":1.12},{"x":32,"C":1.18},{"x":33,"C":1.12},{"x":34,"C":1.18},{"x":35,"C":1.10},{"x":36,"C":1.07},{"x":37,"C":1.09},{"x":38,"C":1.12},{"x":39,"C":1.12},{"x":40,"C":1.15},{"x":42,"C":1.25},{"x":44,"C":1.26},{"x":46,"C":1.23},{"x":47,"C":1.33},{"x":49,"C":1.35},{"x":51,"C":1.35},{"x":53,"C":1.38},{"x":55,"C":1.43},{"x":57,"C":1.48},{"x":59,"C":1.51},{"x":61,"C":1.55},{"x":63,"C":1.58},{"x":65,"C":1.62},{"x":67,"C":1.64},{"x":69,"C":1.70},{"x":71,"C":1.73},{"x":73,"C":1.78},{"x":75,"C":1.82},{"x":77,"C":1.88},{"x":79,"C":1.91},{"x":81,"C":1.99},{"x":83,"C":2.01},{"x":85,"C":2.09},{"x":87,"C":2.13},{"x":89,"C":2.19},{"x":91,"C":2.24},{"x":93,"C":2.28},{"x":95,"C":2.34},{"x":97,"C":2.39},{"x":99,"C":2.44},
{"x":1,"D":0.211},{"x":2,"D":0.213},{"x":3,"D":0.231},{"x":4,"D":0.326},{"x":5,"D":0.260},{"x":6,"D":0.401},{"x":7,"D":0.298},{"x":8,"D":0.315},{"x":9,"D":0.338},{"x":10,"D":0.444},{"x":11,"D":0.503},{"x":12,"D":0.493},{"x":13,"D":0.409},{"x":14,"D":0.430},{"x":15,"D":0.493},{"x":16,"D":0.503},{"x":17,"D":0.517},{"x":18,"D":0.565},{"x":19,"D":0.719},{"x":20,"D":0.781},{"x":21,"D":0.884},{"x":22,"D":0.960},{"x":23,"D":1.10},{"x":24,"D":0.884},{"x":25,"D":0.854},{"x":26,"D":0.914},{"x":27,"D":0.960},{"x":28,"D":0.896},{"x":29,"D":1.05},{"x":30,"D":1.12},{"x":31,"D":1.18},{"x":32,"D":1.25},{"x":33,"D":1.20},{"x":34,"D":1.20},{"x":35,"D":1.35},{"x":36,"D":1.29},{"x":37,"D":1.26},{"x":38,"D":1.33},{"x":40,"D":1.38},{"x":42,"D":1.43},{"x":44,"D":1.45},{"x":46,"D":1.55},{"x":47,"D":1.45},{"x":49,"D":1.47},{"x":51,"D":1.51},{"x":53,"D":1.62},{"x":55,"D":1.70},{"x":56,"D":1.64},{"x":57,"D":1.73},{"x":59,"D":1.78},{"x":61,"D":1.88},{"x":63,"D":1.91},{"x":65,"D":1.95},{"x":67,"D":2.01},{"x":69,"D":2.09},{"x":70,"D":1.99},{"x":71,"D":2.09},{"x":72,"D":1.95},{"x":74,"D":1.95},{"x":75,"D":2.09},{"x":77,"D":2.13},{"x":79,"D":2.16},{"x":81,"D":2.28},{"x":83,"D":2.28},{"x":85,"D":2.24},{"x":87,"D":2.51},{"x":89,"D":2.39},{"x":91,"D":2.48},{"x":93,"D":2.56},{"x":95,"D":2.51},{"x":97,"D":2.62},{"x":98,"D":2.56},{"x":99,"D":2.80}
],
"zoo": [
{"x":1,"A":1.042,"B":0.993,"C":3.0,"D":2.22},{"x":2,"A":1.005,"B":0.935,"C":2.74,"D":1.55},{"x":3,"A":0.964,"B":0.919,"C":2.18,"D":1.50},{"x":4,"A":0.950,"B":0.912,"C":2.34,"D":1.49},{"x":5,"A":0.964,"B":0.919,"C":2.71,"D":1.49},{"x":6,"A":0.906,"B":0.901,"C":2.33,"D":1.50},{"x":7,"A":0.923,"B":0.897,"C":2.13,"D":1.38},{"x":8,"A":0.901,"B":0.890,"C":2.50,"D":1.26},{"x":9,"A":0.890,"B":0.884,"C":2.13,"D":1.55},{"x":10,"A":0.863,"B":0.880,"C":2.55,"D":1.39},
{"x":11,"A":0.880,"B":0.890,"C":2.27,"D":1.51},{"x":12,"A":0.863,"B":0.875,"C":2.25,"D":1.38},{"x":13,"A":0.875,"B":0.869,"C":2.16,"D":1.455},{"x":14,"A":0.848,"B":0.884,"C":2.22,"D":1.39},{"x":15,"A":0.880,"B":0.859,"C":2.13,"D":1.52},{"x":16,"A":0.863,"B":0.875,"C":2.13,"D":1.33},{"x":17,"A":0.842,"B":0.855,"C":2.08,"D":1.40},{"x":18,"A":0.855,"B":0.863,"C":2.11,"D":1.36},{"x":19,"A":0.875,"B":0.875,"C":1.93,"D":1.41},{"x":20,"A":0.863,"B":0.880,"C":1.90,"D":1.33},
{"x":21,"A":0.875,"C":2.01,"D":1.46},{"x":22,"A":0.863,"B":0.884,"C":1.88,"D":1.33},{"x":23,"A":0.875,"C":1.96,"D":1.48},{"x":24,"A":0.884,"B":0.880,"C":2.23,"D":1.46},{"x":25,"A":0.880,"C":2.03,"D":1.33},{"x":26,"A":0.863,"B":0.890,"C":1.98,"D":1.46},{"x":27,"A":0.875,"C":2.06,"D":1.44},{"x":28,"A":0.880,"B":0.901,"C":2.03,"D":1.48},{"x":29,"A":0.859,"C":2.10,"D":1.55},{"x":30,"A":0.875,"B":0.884,"C":2.23,"D":1.52},
{"x":31,"A":0.863,"C":2.11,"D":1.50},{"x":32,"A":0.880,"B":0.890,"C":2.11,"D":1.48},{"x":33,"A":0.875,"C":2.06,"D":1.46},{"x":34,"A":0.869,"B":0.897,"C":1.81,"D":1.48},{"x":35,"A":0.901,"C":2.06,"D":1.46},{"x":36,"A":0.890,"B":0.906,"C":1.88,"D":1.39},{"x":37,"A":0.897,"C":1.93,"D":1.54},{"x":38,"A":0.950,"B":0.901,"C":2.01,"D":1.43},{"x":39,"A":0.890,"C":1.98,"D":1.52},{"x":40,"A":0.906,"B":0.897,"C":2.04,"D":1.53},
{"x":41,"A":0.897,"C":1.98,"D":1.62},{"x":42,"A":0.875,"B":0.912,"C":2.10,"D":1.48},{"x":43,"A":0.901,"C":1.96,"D":1.52},{"x":44,"A":0.912,"B":0.906,"C":2.11,"D":1.52},{"x":45,"A":0.906,"C":2.03,"D":1.71},{"x":46,"A":0.912,"B":0.912,"C":2.08,"D":1.53},{"x":47,"A":0.906,"C":2.05,"D":1.53},{"x":48,"A":0.912,"B":0.919,"C":2.08,"D":1.565},{"x":49,"A":0.923,"C":2.10,"D":1.65},{"x":50,"A":0.919,"B":0.923,"C":2.04,"D":1.72},
{"x":51,"A":0.928,"C":2.05,"D":1.67},{"x":52,"A":0.919,"B":0.919,"C":2.01,"D":1.55},{"x":53,"A":0.928,"C":2.10,"D":1.71},{"x":54,"A":0.935,"B":0.928,"C":2.04,"D":1.58},{"x":55,"A":0.935,"C":2.08,"D":1.65},{"x":56,"A":0.941,"B":0.935,"C":2.11,"D":1.53},{"x":57,"A":0.935,"C":2.04,"D":1.71},{"x":58,"A":1.029,"B":0.935,"C":2.06,"D":1.53},{"x":59,"A":1.029,"C":2.04,"D":1.71},{"x":60,"A":1.022,"B":0.941,"C":2.00,"D":1.52},
{"x":61,"A":1.017,"C":2.04,"D":1.54},{"x":62,"A":1.005,"B":0.945,"C":2.08,"D":1.62},{"x":63,"A":1.012,"C":2.08,"D":1.58},{"x":64,"A":0.988,"B":0.950,"C":2.11,"D":1.73},{"x":65,"A":0.957,"C":2.04,"D":1.55},{"x":66,"A":1.029,"B":0.957,"C":2.10,"D":1.63},{"x":67,"A":1.005,"C":2.15,"D":1.58},{"x":68,"A":1.037,"B":0.950,"C":2.10,"D":1.53},{"x":69,"A":1.029,"C":2.04,"D":1.61},{"x":70,"A":1.022,"B":0.950,"C":2.38,"D":1.47},
{"x":71,"A":1.037,"C":1.99,"D":1.47},{"x":72,"A":1.017,"B":0.957,"C":2.22,"D":1.54},{"x":73,"A":1.029,"C":2.03,"D":1.55},{"x":74,"A":0.957,"B":0.964,"C":2.18,"D":1.67},{"x":75,"A":0.964,"C":2.30,"D":1.57},{"x":76,"A":0.964,"B":0.964,"C":2.13,"D":1.59},{"x":77,"A":0.969,"C":2.10,"D":1.55},{"x":78,"A":0.969,"B":0.969,"C":2.10,"D":1.69},{"x":79,"A":0.974,"C":2.21,"D":1.53},{"x":80,"A":0.974,"B":0.974,"C":2.34,"D":1.54},
{"x":81,"A":0.981,"C":2.21,"D":1.55},{"x":82,"A":0.969,"B":0.981,"C":2.03,"D":1.565},{"x":83,"A":0.981,"C":2.27,"D":1.58},{"x":84,"A":0.964,"B":0.981,"C":2.16,"D":1.60},{"x":85,"A":0.981,"C":2.04,"D":1.63},{"x":86,"A":0.993,"B":0.998,"C":2.34,"D":1.70},{"x":87,"A":1.017,"C":2.15,"D":1.61},{"x":88,"A":0.993,"B":0.998,"C":2.30,"D":1.64},{"x":89,"A":1.005,"C":2.15,"D":1.60},{"x":90,"A":1.012,"B":1.005,"C":2.15,"D":1.62},
{"x":91,"A":1.012,"C":2.29,"D":1.63},{"x":92,"A":1.005,"B":1.012,"C":2.15,"D":1.78},{"x":93,"A":0.988,"C":2.50,"D":1.71},{"x":94,"A":1.029,"B":1.017,"C":2.29,"D":1.69},{"x":95,"A":1.022,"C":2.15,"D":1.62},{"x":96,"A":0.99,"B":1.029,"C":2.37,"D":1.77},{"x":97,"A":1.01,"B":1.042,"C":2.13,"D":1.74},{"x":98,"A":1.148,"B":1.005,"C":2.13,"D":1.67},{"x":99,"A":1.042,"B":0.988,"C":2.13,"D":1.66}
]
},
"resolve": {"scale": {"color": "independent", "strokeDash": "independent", "x": "independent", "y": "independent"}, "legend": {"color": "independent", "strokeDash": "independent"}},
"spacing": 27.5,
"vconcat": [
{"hconcat": [
  {"vconcat": [{
    "width": 360, "height": 192,
    "title": {"text": "vote - θ=0.057- Jmax=0.05 - FT = Items − Transactions − Frequency − Length - l=1 - k=10"},
    "data": {"name": "vote"},
    "transform": [{"fold": ["A","B","C","D"]}, {"filter": "isValid(datum.value)"}],
    "mark": {"type": "line", "strokeWidth": 1},
    "encoding": {
      "x": {"field": "x", "type": "quantitative", "scale": {"domain": [-3.9, 103.9], "nice": false, "zero": false}, "axis": {"values": [0,20,40,60,80,100], "title": "Iterations"}},
      "y": {"field": "value", "type": "quantitative", "scale": {"type": "log", "domain": [4.31, 19.2], "nice": false}, "axis": {"values": [5,6,7,8,9,10], "labelExpr": "datum.value==10?'10¹':datum.value==6?'6 × 10⁰':''", "title": "CPU-Time (second - logscale)", "titlePadding": 0, "minExtent": 12.5, "maxExtent": 12.5}},
      "color": {"field": "key", "type": "nominal", "scale": {"domain": ["A","B","C","D"], "range": ["#1f77b4","#ff7f0e","#d62728","#2ca02c"]}, "legend": {"title": null, "orient": "none", "legendX": 231, "legendY": 4, "labelExpr": "{'A':'LetSIP','B':'LetSIP-DISC-EXP','C':'LetSIP-CDF','D':'LetSIP-DISC-CDF-EXP'}[datum.label]", "encode": {"symbols": {"update": {"strokeDash": {"signal": "datum.value == 'B' ? [3, 1.5] : [1, 0]"}}}}}},
      "strokeDash": {"field": "key", "type": "nominal", "scale": {"domain": ["A","B","C","D"], "range": [[1,0],[3,1.5],[1,0],[1,0]]}, "legend": null}
    }
  }],
  "resolve": {"scale": {"color": "independent", "strokeDash": "independent", "x": "independent", "y": "independent"}, "legend": {"color": "independent", "strokeDash": "independent"}},
  "title": {"text": "(a) Vote", "orient": "bottom", "anchor": "middle", "offset": 14, "font": "Liberation Serif", "fontSize": 23, "fontWeight": "normal", "color": "#000"}},
  {"vconcat": [{
    "width": 360, "height": 192,
    "title": {"text": "hepatitis - θ=0.35- Jmax=0.05 - FT = Items − Transactions − Frequency − Length - l=1 - k=10"},
    "data": {"name": "hep"},
    "transform": [{"fold": ["A","B","C","D"]}, {"filter": "isValid(datum.value)"}],
    "mark": {"type": "line", "strokeWidth": 1},
    "encoding": {
      "x": {"field": "x", "type": "quantitative", "scale": {"domain": [-3.9, 103.9], "nice": false, "zero": false}, "axis": {"values": [0,20,40,60,80,100], "title": "Iterations"}},
      "y": {"field": "value", "type": "quantitative", "scale": {"type": "log", "domain": [0.109, 10.7], "nice": false}, "axis": {"values": [0.2,0.3,0.4,0.5,0.6,0.7,0.8,0.9,1,2,3,4,5,6,7,8,9,10], "labelExpr": "datum.value==10?'10¹':datum.value==1?'10⁰':''", "title": "CPU-Time (second - logscale)", "minExtent": 10.5, "maxExtent": 10.5}},
      "color": {"field": "key", "type": "nominal", "scale": {"domain": ["A","B","C","D"], "range": ["#1f77b4","#ff7f0e","#d62728","#2ca02c"]}, "legend": {"title": null, "orient": "none", "legendX": 232, "legendY": 132, "labelExpr": "{'A':'LetSIP','B':'LetSIP-DISC-EXP','C':'LetSIP-CDF','D':'LetSIP-DISC-CDF-EXP'}[datum.label]", "encode": {"symbols": {"update": {"strokeDash": {"signal": "datum.value == 'B' ? [3, 1.5] : [1, 0]"}}}}}},
      "strokeDash": {"field": "key", "type": "nominal", "scale": {"domain": ["A","B","C","D"], "range": [[1,0],[3,1.5],[1,0],[1,0]]}, "legend": null}
    }
  }],
  "resolve": {"scale": {"color": "independent", "strokeDash": "independent", "x": "independent", "y": "independent"}, "legend": {"color": "independent", "strokeDash": "independent"}},
  "title": {"text": "(b) Hepatetis: runtime", "orient": "bottom", "anchor": "middle", "offset": 14, "font": "Liberation Serif", "fontSize": 23, "fontWeight": "normal", "color": "#000"}}
 ], "spacing": 37.5,
 "resolve": {"scale": {"color": "independent", "strokeDash": "independent", "x": "independent", "y": "independent"}, "legend": {"color": "independent", "strokeDash": "independent"}}},
{"vconcat": [
 {"hconcat": [
  {"vconcat": [{
    "width": 360, "height": 193,
    "title": {"text": "kr-vs-kp - θ=0.63- Jmax=0.05 - FT = Items − Transactions − Frequency − Length - l=1 - k=10"},
    "data": {"name": "krkp"},
    "transform": [{"fold": ["A","B","C","D"]}, {"filter": "isValid(datum.value)"}],
    "mark": {"type": "line", "strokeWidth": 1},
    "encoding": {
      "x": {"field": "x", "type": "quantitative", "scale": {"domain": [-3.9, 103.9], "nice": false, "zero": false}, "axis": {"values": [0,20,40,60,80,100], "title": "Iterations"}},
      "y": {"field": "value", "type": "quantitative", "scale": {"type": "log", "domain": [0.292, 13.1], "nice": false}, "axis": {"values": [0.3,0.4,0.5,0.6,0.7,0.8,0.9,1,2,3,4,5,6,7,8,9,10], "labelExpr": "datum.value==10?'10¹':datum.value==1?'10⁰':''", "title": "CPU-Time (second - logscale)", "minExtent": 10.5, "maxExtent": 10.5}},
      "color": {"field": "key", "type": "nominal", "scale": {"domain": ["A","B","C","D"], "range": ["#1f77b4","#ff7f0e","#d62728","#2ca02c"]}, "legend": {"title": null, "orient": "none", "legendX": 232, "legendY": 130, "labelExpr": "{'A':'LetSIP','B':'LetSIP-DISC-EXP','C':'LetSIP-CDF','D':'LetSIP-DISC-CDF-EXP'}[datum.label]", "encode": {"symbols": {"update": {"strokeDash": {"signal": "datum.value == 'B' ? [3, 1.5] : [1, 0]"}}}}}},
      "strokeDash": {"field": "key", "type": "nominal", "scale": {"domain": ["A","B","C","D"], "range": [[1,0],[3,1.5],[1,0],[1,0]]}, "legend": null}
    }
  }],
  "resolve": {"scale": {"color": "independent", "strokeDash": "independent", "x": "independent", "y": "independent"}, "legend": {"color": "independent", "strokeDash": "independent"}},
  "title": {"text": "(c) Kr-vs-kp", "orient": "bottom", "anchor": "middle", "offset": 8, "font": "Liberation Serif", "fontSize": 23, "fontWeight": "normal", "color": "#000"}},
  {"vconcat": [{
    "width": 357, "height": 193,
    "title": {"text": "lymph - θ=0.32- Jmax=0.05 - FT = Items − Transactions − Frequency − Length - l=1 - k=10"},
    "data": {"name": "lymph"},
    "transform": [{"fold": ["A","B","C","D"]}, {"filter": "isValid(datum.value)"}],
    "mark": {"type": "line", "strokeWidth": 1},
    "encoding": {
      "x": {"field": "x", "type": "quantitative", "scale": {"domain": [-3.9, 103.9], "nice": false, "zero": false}, "axis": {"values": [0,20,40,60,80,100], "title": "Iterations"}},
      "y": {"field": "value", "type": "quantitative", "scale": {"type": "log", "domain": [0.116, 2.89], "nice": false}, "axis": {"values": [0.2,0.3,0.4,0.5,0.6,0.7,0.8,0.9,1,2], "labelExpr": "datum.value==1?'10⁰':''", "title": "CPU-Time (second - logscale)", "minExtent": 11.5, "maxExtent": 11.5}},
      "color": {"field": "key", "type": "nominal", "scale": {"domain": ["A","B","C","D"], "range": ["#1f77b4","#ff7f0e","#d62728","#2ca02c"]}, "legend": {"title": null, "orient": "none", "legendX": 231, "legendY": 131, "labelExpr": "{'A':'LetSIP','B':'LetSIP-DISC-EXP','C':'LetSIP-CDF','D':'LetSIP-DISC-CDF-EXP'}[datum.label]", "encode": {"symbols": {"update": {"strokeDash": {"signal": "datum.value == 'B' ? [3, 1.5] : [1, 0]"}}}}}},
      "strokeDash": {"field": "key", "type": "nominal", "scale": {"domain": ["A","B","C","D"], "range": [[1,0],[3,1.5],[1,0],[1,0]]}, "legend": null}
    }
  }],
  "resolve": {"scale": {"color": "independent", "strokeDash": "independent", "x": "independent", "y": "independent"}, "legend": {"color": "independent", "strokeDash": "independent"}},
  "title": {"text": "(d) Lymph", "orient": "bottom", "anchor": "middle", "offset": 8, "font": "Liberation Serif", "fontSize": 23, "fontWeight": "normal", "color": "#000"}}
 ], "spacing": 38.5,
 "resolve": {"scale": {"color": "independent", "strokeDash": "independent", "x": "independent", "y": "independent"}, "legend": {"color": "independent", "strokeDash": "independent"}}},
 {"vconcat": [
  {"hconcat": [
   {"vconcat": [{
    "width": 355, "height": 192,
    "title": {"text": "mushroom - θ=0.1- Jmax=0.05 - FT = Items − Transactions − Frequency − Length - l=1 - k=10"},
    "data": {"name": "mush"},
    "transform": [{"fold": ["A","B","C","D"]}, {"filter": "isValid(datum.value)"}],
    "mark": {"type": "line", "strokeWidth": 1},
    "encoding": {
      "x": {"field": "x", "type": "quantitative", "scale": {"domain": [-3.9, 103.9], "nice": false, "zero": false}, "axis": {"values": [0,20,40,60,80,100], "title": "Iterations"}},
      "y": {"field": "value", "type": "quantitative", "scale": {"type": "log", "domain": [4.59, 77.8], "nice": false}, "axis": {"values": [5,6,7,8,9,10,20,30,40,50,60,70], "labelExpr": "datum.value==10?'10¹':''", "title": "CPU-Time (second - logscale)", "minExtent": 10.5, "maxExtent": 10.5}},
      "color": {"field": "key", "type": "nominal", "scale": {"domain": ["A","B","C","D"], "range": ["#1f77b4","#ff7f0e","#d62728","#2ca02c"]}, "legend": {"title": null, "orient": "none", "legendX": 227, "legendY": 130, "labelExpr": "{'A':'LetSIP','B':'LetSIP-DISC-EXP','C':'LetSIP-CDF','D':'LetSIP-DISC-CDF-EXP'}[datum.label]", "encode": {"symbols": {"update": {"strokeDash": {"signal": "datum.value == 'B' ? [3, 1.5] : [1, 0]"}}}}}},
      "strokeDash": {"field": "key", "type": "nominal", "scale": {"domain": ["A","B","C","D"], "range": [[1,0],[3,1.5],[1,0],[1,0]]}, "legend": null}
    }
   }],
   "resolve": {"scale": {"color": "independent", "strokeDash": "independent", "x": "independent", "y": "independent"}, "legend": {"color": "independent", "strokeDash": "independent"}},
   "title": {"text": "(e) Mushroom: runtime", "orient": "bottom", "anchor": "middle", "offset": 19, "font": "Liberation Serif", "fontSize": 23, "fontWeight": "normal", "color": "#000"}},
   {"vconcat": [{
    "width": 350, "height": 192,
    "title": {"text": "soybean - θ=0.044- Jmax=0.05 - FT = Items − Transactions − Frequency − Length - l=1 - k=10"},
    "data": {"name": "soy"},
    "transform": [{"fold": ["A","B","C","D"]}, {"filter": "isValid(datum.value)"}],
    "mark": {"type": "line", "strokeWidth": 1},
    "encoding": {
      "x": {"field": "x", "type": "quantitative", "scale": {"domain": [-3.9, 103.9], "nice": false, "zero": false}, "axis": {"values": [0,20,40,60,80,100], "title": "Iterations"}},
      "y": {"field": "value", "type": "quantitative", "scale": {"type": "log", "domain": [1.60, 11.9], "nice": false}, "axis": {"values": [2,3,4,5,6,7,8,9,10], "labelExpr": "datum.value==10?'10¹':datum.value==6?'6 × 10⁰':datum.value==4?'4 × 10⁰':datum.value==3?'3 × 10⁰':datum.value==2?'2 × 10⁰':''", "title": "CPU-Time (second - logscale)", "minExtent": 19.5, "maxExtent": 19.5}},
      "color": {"field": "key", "type": "nominal", "scale": {"domain": ["A","B","C","D"], "range": ["#1f77b4","#ff7f0e","#d62728","#2ca02c"]}, "legend": {"title": null, "orient": "none", "legendX": 224, "legendY": 67, "labelExpr": "{'A':'LetSIP','B':'LetSIP-DISC-EXP','C':'LetSIP-CDF','D':'LetSIP-DISC-CDF-EXP'}[datum.label]", "encode": {"symbols": {"update": {"strokeDash": {"signal": "datum.value == 'B' ? [3, 1.5] : [1, 0]"}}}}}},
      "strokeDash": {"field": "key", "type": "nominal", "scale": {"domain": ["A","B","C","D"], "range": [[1,0],[3,1.5],[1,0],[1,0]]}, "legend": null}
    }
   }],
   "resolve": {"scale": {"color": "independent", "strokeDash": "independent", "x": "independent", "y": "independent"}, "legend": {"color": "independent", "strokeDash": "independent"}},
   "title": {"text": "(f) Soybean: runtime", "orient": "bottom", "anchor": "middle", "offset": 19, "font": "Liberation Serif", "fontSize": 23, "fontWeight": "normal", "color": "#000"}}
  ], "spacing": 45.5,
  "resolve": {"scale": {"color": "independent", "strokeDash": "independent", "x": "independent", "y": "independent"}, "legend": {"color": "independent", "strokeDash": "independent"}}},
  {"hconcat": [
   {"vconcat": [{
    "width": 360, "height": 193,
    "title": {"text": "anneal - θ=0.81- Jmax=0.05 - FT = Items − Transactions − Frequency − Length - l=1 - k=10"},
    "data": {"name": "anneal"},
    "transform": [{"fold": ["A","B","C","D"]}, {"filter": "isValid(datum.value)"}],
    "mark": {"type": "line", "strokeWidth": 1},
    "encoding": {
      "x": {"field": "x", "type": "quantitative", "scale": {"domain": [-3.9, 103.9], "nice": false, "zero": false}, "axis": {"values": [0,20,40,60,80,100], "title": "Iterations"}},
      "y": {"field": "value", "type": "quantitative", "scale": {"type": "log", "domain": [0.154, 8.25], "nice": false}, "axis": {"values": [0.2,0.3,0.4,0.5,0.6,0.7,0.8,0.9,1,2,3,4,5,6,7,8], "labelExpr": "datum.value==1?'10⁰':''", "title": "CPU-Time (second - logscale)", "minExtent": 10.5, "maxExtent": 10.5}},
      "color": {"field": "key", "type": "nominal", "scale": {"domain": ["A","B","C","D"], "range": ["#1f77b4","#ff7f0e","#d62728","#2ca02c"]}, "legend": {"title": null, "orient": "none", "legendX": 232, "legendY": 131, "labelExpr": "{'A':'LetSIP','B':'LetSIP-DISC-EXP','C':'LetSIP-CDF','D':'LetSIP-DISC-CDF-EXP'}[datum.label]", "encode": {"symbols": {"update": {"strokeDash": {"signal": "datum.value == 'B' ? [3, 1.5] : [1, 0]"}}}}}},
      "strokeDash": {"field": "key", "type": "nominal", "scale": {"domain": ["A","B","C","D"], "range": [[1,0],[3,1.5],[1,0],[1,0]]}, "legend": null}
    }
   }],
   "resolve": {"scale": {"color": "independent", "strokeDash": "independent", "x": "independent", "y": "independent"}, "legend": {"color": "independent", "strokeDash": "independent"}},
   "title": {"text": "(g) Anneal", "orient": "bottom", "anchor": "middle", "offset": 12, "font": "Liberation Serif", "fontSize": 23, "fontWeight": "normal", "color": "#000"}},
   {"vconcat": [{
    "width": 350, "height": 193,
    "title": {"text": "zoo-1 - θ=0.09- Jmax=0.05 - FT = Items − Transactions − Frequency − Length - l=1 - k=10"},
    "data": {"name": "zoo"},
    "transform": [{"fold": ["A","B","C","D"]}, {"filter": "isValid(datum.value)"}],
    "mark": {"type": "line", "strokeWidth": 1},
    "encoding": {
      "x": {"field": "x", "type": "quantitative", "scale": {"domain": [-3.9, 103.9], "nice": false, "zero": false}, "axis": {"values": [0,20,40,60,80,100], "title": "Iterations"}},
      "y": {"field": "value", "type": "quantitative", "scale": {"type": "log", "domain": [0.791, 3.21], "nice": false}, "axis": {"values": [0.8,0.9,1,2,3], "labelExpr": "datum.value==1?'10⁰':datum.value==2?'2 × 10⁰':datum.value==3?'3 × 10⁰':''", "title": "CPU-Time (second - logscale)", "minExtent": 19.5, "maxExtent": 19.5}},
      "color": {"field": "key", "type": "nominal", "scale": {"domain": ["A","B","C","D"], "range": ["#1f77b4","#ff7f0e","#d62728","#2ca02c"]}, "legend": {"title": null, "orient": "none", "legendX": 116, "legendY": 6, "labelExpr": "{'A':'LetSIP','B':'LetSIP-DISC-EXP','C':'LetSIP-CDF','D':'LetSIP-DISC-CDF-EXP'}[datum.label]", "encode": {"symbols": {"update": {"strokeDash": {"signal": "datum.value == 'B' ? [3, 1.5] : [1, 0]"}}}}}},
      "strokeDash": {"field": "key", "type": "nominal", "scale": {"domain": ["A","B","C","D"], "range": [[1,0],[3,1.5],[1,0],[1,0]]}, "legend": null}
    }
   }],
   "resolve": {"scale": {"color": "independent", "strokeDash": "independent", "x": "independent", "y": "independent"}, "legend": {"color": "independent", "strokeDash": "independent"}},
   "title": {"text": "(h) Zoo-1", "orient": "bottom", "anchor": "middle", "offset": 12, "font": "Liberation Serif", "fontSize": 23, "fontWeight": "normal", "color": "#000"}}
  ], "spacing": 40,
  "resolve": {"scale": {"color": "independent", "strokeDash": "independent", "x": "independent", "y": "independent"}, "legend": {"color": "independent", "strokeDash": "independent"}}}
 ], "spacing": 27.5,
 "resolve": {"scale": {"color": "independent", "strokeDash": "independent", "x": "independent", "y": "independent"}, "legend": {"color": "independent", "strokeDash": "independent"}}}
], "spacing": 35.5,
"resolve": {"scale": {"color": "independent", "strokeDash": "independent", "x": "independent", "y": "independent"}, "legend": {"color": "independent", "strokeDash": "independent"}}}
]
}
